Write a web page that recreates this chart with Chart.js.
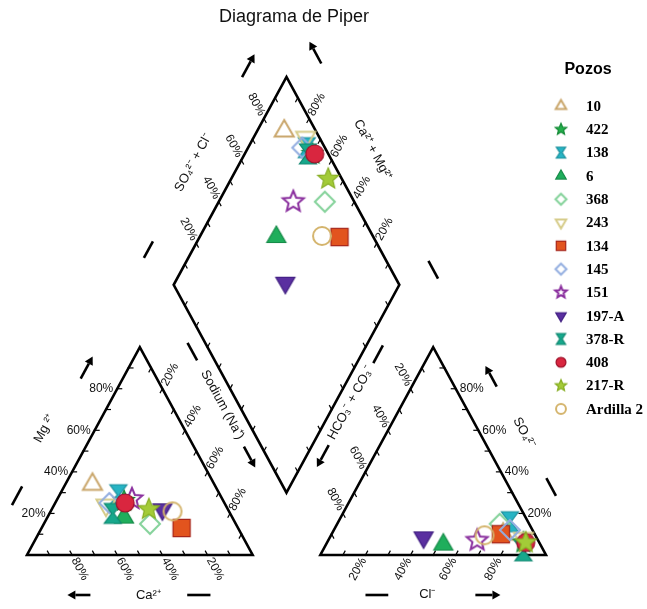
<!DOCTYPE html>
<html><head><meta charset="utf-8">
<script src="https://cdn.jsdelivr.net/npm/chart.js@4.4.1/dist/chart.umd.min.js"></script>
<style>html,body{margin:0;padding:0;background:#fff}#wrap{width:647px;height:609px;position:relative}</style>
</head><body><div id="wrap"><canvas id="c"></canvas></div>
<script>
// ---------------- data (percent of meq/L) ----------------
const pozos   = ['10','422','138','6','368','243','134','145','151','197-A','378-R','408','217-R','Ardilla 2'];
const caPct   = [54, 44, 45, 48, 38, 53, 25, 51, 40, 29, 52, 44, 35, 25];
const mgPct   = [34, 26, 29, 18, 15, 24, 13, 25, 27, 22, 20, 25, 22, 21];
const naPct   = [12, 30, 26, 34, 47, 23, 62, 24, 33, 49, 28, 31, 43, 54];
const hco3Pct = [14, 7, 8, 43, 13, 6, 15, 10, 27, 50, 9, 6, 6, 22.5];
const so4Pct  = [10, 6, 16, 5, 15, 8, 10, 12, 7, 8.5, 2, 6, 6, 9.5];
const clPct   = [76, 87, 76, 52, 72, 86, 75, 78, 66, 41.5, 89, 88, 88, 68];
const tickValues = [20, 40, 60, 80];
const tickLabels = ['20%', '40%', '60%', '80%'];
const chartTitle = 'Diagrama de Piper';
const legendTitle = 'Pozos';

// ---------------- marker styles ----------------
const markerShape  = ['triUp','star','hourglass','triUp','diamond','triDown','square','diamond','star','triDown','hourglass','circle','star','circle'];
const markerFilled = [false, true, true, true, false, false, true, false, false, true, true, true, true, false];
const markerFill   = [null,'#22ae4a','#27b4c4','#1fae5c',null,null,'#e2541e',null,null,'#5a2fa0','#17a88c','#d9263f','#a3cb38',null];
const markerStroke = ['#c9a66b','#168a38','#1a8f9c','#168a48','#84d29a','#d6cc8a','#a8261a','#93aee0','#8a2f9e','#3f1d80','#0f8770','#9e1028','#86ad22','#d4b46c'];
const markerSize   = [11, 11, 10, 11, 10, 11, 11, 10, 11, 11, 10, 9, 11, 9];

// ---------------- geometry ----------------
const H = Math.sqrt(3) / 2;
const GAP = 30;
const BY = GAP / 2 * Math.sqrt(3);
const YMAX = BY + 200 * H;
function cationXY(ca, mg, na) { const t = ca + mg + na; mg = mg / t * 100; na = na / t * 100; return { x: na + mg / 2, y: H * mg }; }
function anionXY(hc, so, cl) { const t = hc + so + cl; so = so / t * 100; cl = cl / t * 100; return { x: 100 + GAP + cl + so / 2, y: H * so }; }
function diamondXY(ca, mg, na, hc, so, cl) {
  const c = (ca + mg) / (ca + mg + na) * 100, s = (so + cl) / (hc + so + cl) * 100;
  return { x: 115 + 0.5 * (s - c), y: BY + H * (s + c) };
}

function drawShape(g, shape, cx, cy, r, fill, stroke, lw) {
  g.beginPath();
  if (shape === 'triUp' || shape === 'triDown') {
    const d = shape === 'triUp' ? 1 : -1;
    g.moveTo(cx, cy - d * r);
    g.lineTo(cx + r * H, cy + d * r / 2);
    g.lineTo(cx - r * H, cy + d * r / 2);
  } else if (shape === 'star') {
    for (let k = 0; k < 10; k++) {
      const a = -Math.PI / 2 + k * Math.PI / 5, rr = k % 2 ? r * 0.45 : r;
      const X = cx + rr * Math.cos(a), Y = cy + rr * Math.sin(a);
      k ? g.lineTo(X, Y) : g.moveTo(X, Y);
    }
  } else if (shape === 'hourglass') {
    const w = r * 0.85;
    g.moveTo(cx - w, cy - r); g.lineTo(cx + w, cy - r); g.lineTo(cx + 1.2, cy);
    g.lineTo(cx + w, cy + r); g.lineTo(cx - w, cy + r); g.lineTo(cx - 1.2, cy);
  } else if (shape === 'diamond') {
    g.moveTo(cx, cy - r); g.lineTo(cx + r, cy); g.lineTo(cx, cy + r); g.lineTo(cx - r, cy);
  } else if (shape === 'square') {
    const h = r * 0.78; g.rect(cx - h, cy - h, 2 * h, 2 * h);
  } else {
    g.arc(cx, cy, r, 0, Math.PI * 2);
  }
  g.closePath();
  if (fill) { g.fillStyle = fill; g.fill(); }
  if (stroke) { g.lineWidth = lw; g.strokeStyle = stroke; g.lineJoin = 'miter'; g.stroke(); }
}
function makeMarker(i, scale) {
  const r = markerSize[i] * scale, lw = markerFilled[i] ? 1.2 : 2;
  const size = Math.ceil(2 * r + lw + 4);
  const c = document.createElement('canvas'); c.width = c.height = size;
  drawShape(c.getContext('2d'), markerShape[i], size / 2, size / 2, r, markerFilled[i] ? markerFill[i] : null, markerStroke[i], lw);
  return c;
}

const datasets = pozos.map((name, i) => ({
  label: name,
  data: [cationXY(caPct[i], mgPct[i], naPct[i]), anionXY(hco3Pct[i], so4Pct[i], clPct[i]),
         diamondXY(caPct[i], mgPct[i], naPct[i], hco3Pct[i], so4Pct[i], clPct[i])],
  pointStyle: makeMarker(i, 1), pointRadius: 9, showLine: false, clip: false,
  order: pozos.length - i
}));

// ---------------- frame plugin ----------------
const SANS = '"Liberation Sans", Arial, sans-serif';
const L = [65, BY + 100 * H], T = [115, BY + 200 * H], R = [165, BY + 100 * H], B = [115, BY];
const edgeSets = [
  { pt: v => [v / 2, H * v], out: [-1, 0], labels: true },                       // Mg
  { pt: v => [100 - v, 0], out: [0.5, -H], labels: true },                        // Ca
  { pt: v => [50 + v / 2, H * (100 - v)], out: [0.5, H], labels: true },          // Na
  { pt: v => [130 + v, 0], out: [-0.5, -H], labels: true },                       // Cl
  { pt: v => [130 + (100 - v) / 2, H * (100 - v)], out: [-0.5, H], labels: true },// HCO3
  { pt: v => [230 - v / 2, H * v], out: [1, 0], labels: true },                   // SO4
  { pt: v => [115 + 0.5 * (v - 100), BY + H * (v + 100)], out: [-0.5, H], labels: true }, // SO4+Cl
  { pt: v => [115 + 0.5 * (100 - v), BY + H * (100 + v)], out: [0.5, H], labels: true },  // Ca+Mg
  { pt: v => [115 - 0.5 * v, BY + H * v], out: [-0.5, -H], labels: false },
  { pt: v => [115 + 0.5 * v, BY + H * v], out: [0.5, -H], labels: false }
];
const decor = [
  { a: [0, 0], b: [50, 100 * H], inner: [50, 30], dash: [0.155, 0.245], doff: 37, title: 'Mg ²⁺', tt: 0.505, toff: 45, arrow: [0.764, 0.87] },
  { a: [0, 0], b: [100, 0], inner: [50, 30], dash: [0.71, 0.813], doff: 40, title: 'Ca²⁺', tt: 0.538, toff: 40, arrow: [0.281, 0.179] },
  { a: [50, 100 * H], b: [100, 0], inner: [50, 30], dash: [0.08, 0.165], doff: 44, title: 'Sodium (Na⁺)', tt: 0.381, toff: 45, arrow: [0.58, 0.68] },
  { a: [130, 0], b: [180, 100 * H], inner: [180, 30], dash: [0.82, 0.905], doff: 45, title: 'HCO₃⁻ + CO₃⁻', tt: 0.626, toff: 46, arrow: [0.425, 0.32] },
  { a: [180, 100 * H], b: [230, 0], inner: [180, 30], dash: [0.715, 0.8], doff: 37, title: 'SO₄²⁻', tt: 0.5, toff: 39, arrow: [0.275, 0.175] },
  { a: [130, 0], b: [230, 0], inner: [180, 30], dash: [0.2, 0.301], doff: 40, title: 'Cl⁻', tt: 0.474, toff: 39, arrow: [0.687, 0.798] },
  { a: L, b: T, inner: [115, L[1]], dash: [0.04, 0.12], doff: 39, title: 'SO₄²⁻ + Cl⁻', tt: 0.493, toff: 41, arrow: [0.91, 1.02] },
  { a: T, b: R, inner: [115, L[1]], dash: [0.97, 1.055], doff: 37, title: 'Ca²⁺ + Mg²⁺', tt: 0.444, toff: 41, arrow: [0.02, -0.085] }
];

const piperFrame = {
  id: 'piperFrame',
  beforeDatasetsDraw(chart) {
    const ctx = chart.ctx, xs = chart.scales.x, ys = chart.scales.y;
    const P = (p) => [xs.getPixelForValue(p[0]), ys.getPixelForValue(p[1])];
    ctx.save();
    ctx.fillStyle = '#fff'; ctx.fillRect(0, 0, chart.width, chart.height);
    // outlines
    ctx.strokeStyle = '#000'; ctx.lineWidth = 2.6; ctx.lineJoin = 'miter';
    const polys = [[[0, 0], [100, 0], [50, 100 * H]], [[130, 0], [230, 0], [180, 100 * H]], [B, R, T, L]];
    polys.forEach(poly => {
      ctx.beginPath();
      poly.forEach((p, k) => { const q = P(p); k ? ctx.lineTo(q[0], q[1]) : ctx.moveTo(q[0], q[1]); });
      ctx.closePath(); ctx.stroke();
    });
    // ticks and tick labels
    ctx.lineWidth = 1.2; ctx.fillStyle = '#111';
    ctx.font = '12px ' + SANS; ctx.textBaseline = 'middle';
    edgeSets.forEach(es => {
      for (let v = 10; v < 100; v += 10) {
        const p = P(es.pt(v));
        const q = P([es.pt(v)[0] + es.out[0], es.pt(v)[1] + es.out[1]]);
        let dx = q[0] - p[0], dy = q[1] - p[1]; const n = Math.hypot(dx, dy); dx /= n; dy /= n;
        ctx.beginPath(); ctx.moveTo(p[0] + dx * 1, p[1] + dy * 1); ctx.lineTo(p[0] - dx * 5, p[1] - dy * 5); ctx.stroke();
        const li = tickValues.indexOf(v);
        if (es.labels && li >= 0) {
          let ang = Math.atan2(dy, dx), align = 'left';
          if (dx < -1e-6) { ang += Math.PI; align = 'right'; }
          ctx.save();
          ctx.translate(p[0] + dx * 4, p[1] + dy * 4); ctx.rotate(ang);
          ctx.textAlign = align; ctx.fillText(tickLabels[li], 0, 0);
          ctx.restore();
        }
      }
    });
    // axis titles, dashes and arrows
    ctx.font = '13px ' + SANS; ctx.lineWidth = 2.6; ctx.lineCap = 'butt';
    decor.forEach(d => {
      const A = P(d.a), Bp = P(d.b), I = P(d.inner);
      const V = [Bp[0] - A[0], Bp[1] - A[1]]; const len = Math.hypot(V[0], V[1]);
      const u = [V[0] / len, V[1] / len]; let nrm = [u[1], -u[0]];
      if (nrm[0] * (A[0] - I[0]) + nrm[1] * (A[1] - I[1]) < 0) nrm = [-nrm[0], -nrm[1]];
      const at = (t, off) => [A[0] + V[0] * t + nrm[0] * off, A[1] + V[1] * t + nrm[1] * off];
      let p0 = at(d.dash[0], d.doff), p1 = at(d.dash[1], d.doff);
      ctx.beginPath(); ctx.moveTo(p0[0], p0[1]); ctx.lineTo(p1[0], p1[1]); ctx.stroke();
      p0 = at(d.arrow[0], d.doff); p1 = at(d.arrow[1], d.doff);
      const ad = [p1[0] - p0[0], p1[1] - p0[1]]; const al = Math.hypot(ad[0], ad[1]);
      const au = [ad[0] / al, ad[1] / al];
      const hb = [p1[0] - au[0] * 8, p1[1] - au[1] * 8];
      ctx.beginPath(); ctx.moveTo(p0[0], p0[1]); ctx.lineTo(hb[0], hb[1]); ctx.stroke();
      ctx.beginPath(); ctx.moveTo(p1[0], p1[1]);
      ctx.lineTo(hb[0] - au[1] * 4.5, hb[1] + au[0] * 4.5); ctx.lineTo(hb[0] + au[1] * 4.5, hb[1] - au[0] * 4.5);
      ctx.closePath(); ctx.fillStyle = '#000'; ctx.fill();
      const c = at(d.tt, d.toff);
      let ang = Math.atan2(u[1], u[0]); if (u[0] < -1e-6) ang += Math.PI;
      ctx.save(); ctx.translate(c[0], c[1]); ctx.rotate(ang);
      ctx.textAlign = 'center'; ctx.textBaseline = 'middle'; ctx.fillStyle = '#111';
      ctx.fillText(d.title, 0, 0); ctx.restore();
    });
    ctx.font = '18px ' + SANS; ctx.fillStyle = '#111'; ctx.textAlign = 'center'; ctx.textBaseline = 'middle';
    ctx.fillText(chartTitle, 294, 17);
    ctx.restore();
  },
  afterDraw(chart) {
    const ctx = chart.ctx;
    ctx.save();
    ctx.fillStyle = '#000'; ctx.textBaseline = 'middle';
    ctx.font = 'bold 16px ' + SANS; ctx.textAlign = 'center';
    ctx.fillText(legendTitle, 588, 70);
    ctx.font = 'bold 15px "Liberation Serif", "Times New Roman", serif'; ctx.textAlign = 'left';
    pozos.forEach((name, i) => {
      const y = 106 + i * 23.3;
      const m = makeMarker(i, 0.55);
      ctx.drawImage(m, 561 - m.width / 2, y - m.height / 2);
      ctx.fillText(name, 586, y + 1);
    });
    ctx.restore();
  }
};

new Chart(document.getElementById('c'), {
  type: 'scatter',
  data: { datasets },
  options: {
    responsive: true, maintainAspectRatio: false, animation: false, events: [],
    layout: { padding: { left: 27, right: 101, top: 77, bottom: 54 }, autoPadding: false },
    plugins: { legend: { display: false }, tooltip: { enabled: false }, title: { display: false } },
    scales: {
      x: { type: 'linear', min: 0, max: 230, display: false },
      y: { type: 'linear', min: 0, max: YMAX, display: false }
    }
  },
  plugins: [piperFrame]
});
</script>
</body></html>
